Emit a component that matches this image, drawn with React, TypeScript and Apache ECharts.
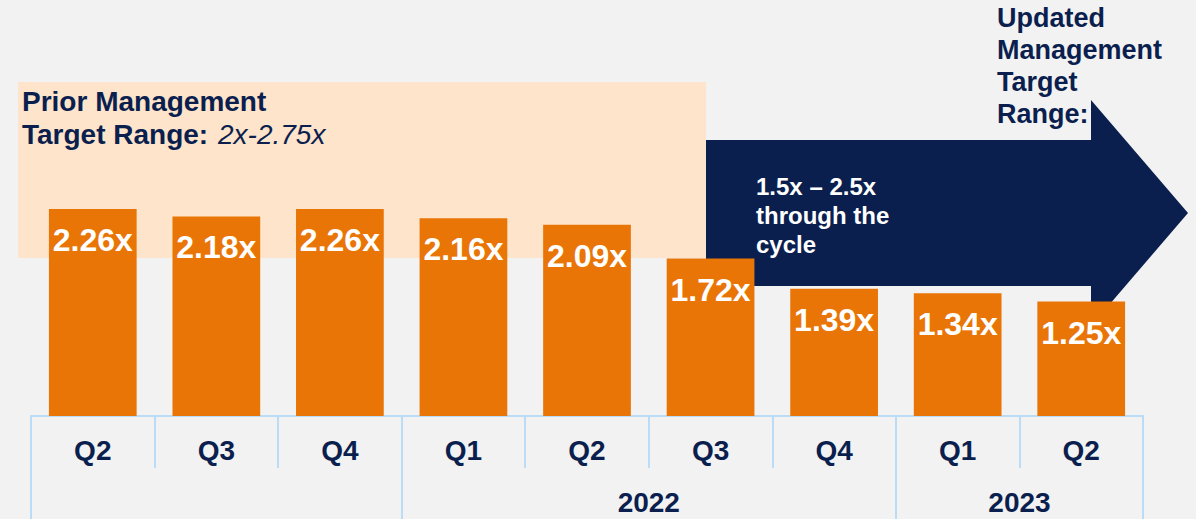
import React, { useEffect, useRef } from "react";
import * as echarts from "echarts";

// ---- data ----
const quarters = ["Q2", "Q3", "Q4", "Q1", "Q2", "Q3", "Q4", "Q1", "Q2"];
const leverage = [2.26, 2.18, 2.26, 2.16, 2.09, 1.72, 1.39, 1.34, 1.25];
const quarterYear = ["2021", "2021", "2021", "2022", "2022", "2022", "2022", "2023", "2023"];
const shownYears = ["2022", "2023"]; // the 2021 group has no visible label in the reference

const priorTitle = "Prior Management";
const priorLabel = "Target Range:";
const priorRange = "2x-2.75x";
const updatedLines = ["Updated", "Management", "Target", "Range:"];
const arrowLines = ["1.5x \u2013 2.5x", "through the", "cycle"];

// ---- derived year axis (boundaries & centred labels) ----
const boundaries: number[] = [0];
for (let i = 1; i < quarterYear.length; i++) {
  if (quarterYear[i] !== quarterYear[i - 1]) boundaries.push(i);
}
boundaries.push(quarterYear.length);
const yearAxisLabels: string[] = new Array(quarterYear.length + 1).fill("");
for (let g = 0; g < boundaries.length - 1; g++) {
  const start = boundaries[g];
  const end = boundaries[g + 1];
  const yr = quarterYear[start];
  const c = (start + end) / 2;
  if (shownYears.includes(yr) && Number.isInteger(c)) yearAxisLabels[c] = yr;
}

const NAVY = "#0B1F4F";
const ORANGE = "#E97507";
const PEACH = "#FDE4CA";
const AXIS = "#BBDCF7";
const FONT = "Arial, 'Liberation Sans', Helvetica, sans-serif";

export default function App() {
  const ref = useRef<HTMLDivElement>(null);
  useEffect(() => {
    document.body.style.margin = "0";
    const chart = echarts.init(ref.current!, null, { renderer: "svg" });
    const option: any = {
      animation: false,
      backgroundColor: "#F2F2F2",
      grid: { left: 31, right: 53, top: 4, bottom: 103 },
      xAxis: [
        {
          type: "category",
          data: quarters,
          position: "bottom",
          offset: 0,
          axisLine: { show: true, lineStyle: { color: AXIS, width: 2 } },
          axisTick: { show: true, length: 52, interval: 0, lineStyle: { color: AXIS, width: 2 } },
          axisLabel: {
            interval: 0,
            margin: 20,
            color: NAVY,
            fontSize: 28,
            fontWeight: "bold",
            fontFamily: FONT,
          },
        },
        {
          type: "category",
          data: yearAxisLabels,
          boundaryGap: false,
          position: "bottom",
          offset: 0,
          axisLine: { show: false },
          axisTick: {
            show: true,
            length: 104,
            interval: (idx: number) => boundaries.includes(idx),
            lineStyle: { color: AXIS, width: 2 },
          },
          axisLabel: {
            interval: 0,
            margin: 72,
            color: NAVY,
            fontSize: 28,
            fontWeight: "bold",
            fontFamily: FONT,
          },
        },
      ],
      yAxis: { type: "value", min: 0, max: 4.5, show: false, splitLine: { show: false } },
      series: [
        {
          type: "bar",
          xAxisIndex: 0,
          data: leverage,
          barWidth: "71%",
          z: 5,
          itemStyle: { color: ORANGE },
          label: {
            show: true,
            position: "insideTop",
            distance: 15,
            formatter: (p: any) => p.value.toFixed(2) + "x",
            color: "#FFFFFF",
            fontSize: 32,
            fontWeight: "bold",
            fontFamily: FONT,
          },
        },
      ],
      graphic: [
        {
          type: "rect",
          z: 0,
          shape: { x: 18, y: 82, width: 688, height: 176 },
          style: { fill: PEACH },
        },
        {
          type: "polygon",
          z: 0,
          shape: {
            points: [
              [706, 140],
              [1091, 140],
              [1091, 100],
              [1188, 213],
              [1091, 326],
              [1091, 286],
              [706, 286],
            ],
          },
          style: { fill: NAVY },
        },
        {
          type: "text",
          z: 1,
          x: 22,
          y: 101,
          style: { text: priorTitle, fill: NAVY, font: `bold 28px ${FONT}`, verticalAlign: "middle" },
        },
        {
          type: "text",
          z: 1,
          x: 22,
          y: 134,
          style: { text: priorLabel, fill: NAVY, font: `bold 28px ${FONT}`, verticalAlign: "middle" },
        },
        {
          type: "text",
          z: 1,
          x: 218,
          y: 134,
          style: { text: priorRange, fill: NAVY, font: `italic 28px ${FONT}`, verticalAlign: "middle" },
        },
        ...updatedLines.map((t, i) => ({
          type: "text",
          z: 1,
          x: 997,
          y: 18 + i * 32,
          style: { text: t, fill: NAVY, font: `bold 27px ${FONT}`, verticalAlign: "middle" },
        })),
        ...arrowLines.map((t, i) => ({
          type: "text",
          z: 1,
          x: 756,
          y: 186 + i * 29,
          style: { text: t, fill: "#FFFFFF", font: `bold 24px ${FONT}`, verticalAlign: "middle" },
        })),
      ],
    };
    chart.setOption(option);
    return () => chart.dispose();
  }, []);
  return (
    <div
      ref={ref}
      style={{ position: "absolute", left: 0, top: 0, width: 1196, height: 519 }}
    />
  );
}
